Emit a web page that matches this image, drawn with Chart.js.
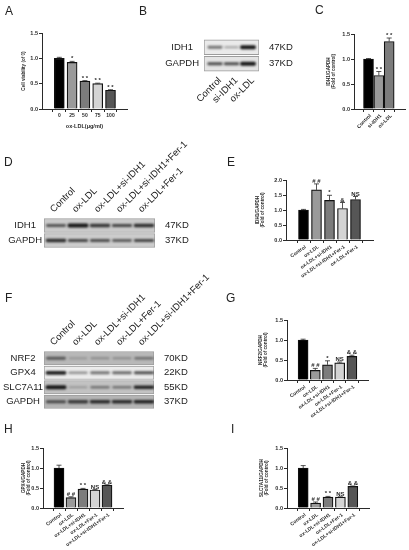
<!DOCTYPE html>
<html>
<head>
<meta charset="utf-8">
<style>
  html, body { margin: 0; padding: 0; background: #fff; }
  #fig { position: relative; width: 409px; height: 550px; overflow: hidden; filter: blur(0.3px); }
  #fig canvas { position: absolute; }
  .letter { position: absolute; font: 12px "Liberation Sans", Arial, sans-serif; color: #222; line-height: 12px; }
</style>
<script src="https://cdn.jsdelivr.net/npm/chart.js@4/dist/chart.umd.min.js"></script>
</head>
<body>
<div id="fig"></div>
<script>
// bar panels
const doseLabels = ['0', '25', '50', '75', '100'];
const viability = [1.0, 0.92, 0.55, 0.5, 0.37];
const viabilityErr = [0.02, 0.02, 0.01, 0.01, 0.01];
const viabilitySig = ['', '*', '* *', '* *', '* *'];

const cLabels = ['Control', 'si-IDH1', 'ox-LDL'];
const cValues = [1.0, 0.67, 1.35];
const cErr = [0.01, 0.08, 0.07];
const cSig = ['', '* *', '* *'];

const eLabels = ['Control', 'ox-LDL', 'ox-LDL+si-IDH1', 'ox-LDL+si-IDH1+Fer-1', 'ox-LDL+Fer-1'];
const eValues = [1.0, 1.67, 1.32, 1.05, 1.35];
const eErr = [0.02, 0.2, 0.17, 0.2, 0.1];
const eSig = ['', '# #', '*', '&', 'NS'];

const ghiLabels = ['Control', 'ox-LDL', 'ox-LDL+si-IDH1', 'ox-LDL+Fer-1', 'ox-LDL+si-IDH1+Fer-1'];
const gValues = [1.0, 0.24, 0.38, 0.43, 0.59];
const gErr = [0.02, 0.05, 0.1, 0.02, 0.03];
const gSig = ['', '# #', '*', 'NS', '& &'];
const hValues = [1.0, 0.26, 0.47, 0.45, 0.57];
const hErr = [0.07, 0.02, 0.02, 0.01, 0.01];
const hSig = ['', '# #', '* *', 'NS', '& &'];
const iValues = [1.0, 0.12, 0.27, 0.27, 0.54];
const iErr = [0.06, 0.03, 0.02, 0.01, 0.01];
const iSig = ['', '# #', '* *', 'NS', '& &'];

const barGrays = ['#000000', '#9a9a9a', '#7c7c7c', '#d4d4d4', '#565656'];

// blots: band density per lane, row by row
const bLanes = ['Control', 'si-IDH1', 'ox-LDL'];
const bRows = ['IDH1', 'GAPDH'];
const bKD = ['47KD', '37KD'];
const bIDH1 = [0.5, 0.25, 1.0];
const bGAPDH = [0.7, 0.7, 1.0];

const dLanes = ['Control', 'ox-LDL', 'ox-LDL+si-IDH1', 'ox-LDL+si-IDH1+Fer-1', 'ox-LDL+Fer-1'];
const dRows = ['IDH1', 'GAPDH'];
const dKD = ['47KD', '37KD'];
const dIDH1 = [0.6, 1.0, 0.8, 0.7, 0.85];
const dGAPDH = [0.85, 0.7, 0.65, 0.55, 0.7];

const fLanes = ['Control', 'ox-LDL', 'ox-LDL+si-IDH1', 'ox-LDL+Fer-1', 'ox-LDL+si-IDH1+Fer-1'];
const fRows = ['NRF2', 'GPX4', 'SLC7A11', 'GAPDH'];
const fKD = ['70KD', '22KD', '55KD', '37KD'];
const fNRF2 = [0.55, 0.1, 0.2, 0.2, 0.4];
const fGPX4 = [0.95, 0.35, 0.5, 0.55, 0.7];
const fSLC = [1.0, 0.15, 0.4, 0.4, 0.9];
const fGAPDH = [0.65, 0.75, 0.85, 0.85, 0.9];

const letters = [['A', 5, 5], ['B', 139, 5], ['C', 315, 4], ['D', 4, 156], ['E', 227, 156],
  ['F', 5, 292], ['G', 226, 292], ['H', 4, 423], ['I', 231, 423]];

const fig = document.getElementById('fig');
const family = '"Liberation Sans", Arial, sans-serif';
const ink = '#2a2a2a';

letters.forEach(l => {
  const d = document.createElement('div');
  d.className = 'letter';
  d.textContent = l[0];
  d.style.left = l[1] + 'px';
  d.style.top = l[2] + 'px';
  fig.appendChild(d);
});

function addCanvas(r) {
  const c = document.createElement('canvas');
  c.width = r.right - r.left;
  c.height = r.bottom - r.top;
  c.style.left = r.left + 'px';
  c.style.top = r.top + 'px';
  fig.appendChild(c);
  return c;
}

// error whiskers and significance marks above each bar
const barExtras = {
  id: 'barExtras',
  afterDatasetsDraw(chart, args, opts) {
    const ctx = chart.ctx;
    const y = chart.scales.y;
    const bars = chart.getDatasetMeta(0).data;
    ctx.save();
    ctx.strokeStyle = ink;
    ctx.fillStyle = ink;
    ctx.lineWidth = 0.8;
    ctx.textAlign = 'center';
    ctx.textBaseline = 'alphabetic';
    ctx.font = 'bold 6px ' + family;
    opts.values.forEach((v, i) => {
      const top = y.getPixelForValue(v + opts.errs[i]);
      const x = bars[i].x;
      ctx.beginPath();
      ctx.moveTo(x, y.getPixelForValue(v));
      ctx.lineTo(x, top);
      ctx.moveTo(x - 2.5, top);
      ctx.lineTo(x + 2.5, top);
      ctx.stroke();
      if (opts.sig[i]) ctx.fillText(opts.sig[i], x, top - 1);
    });
    ctx.restore();
  }
};

function barPanel(p) {
  // first bar centre and spacing set the x range of the scale
  const xMin = -(p.firstX - p.axisX) / p.step;
  const xMax = (p.endX - p.firstX) / p.step;
  new Chart(addCanvas(p.box), {
    type: 'bar',
    plugins: [barExtras],
    data: {
      datasets: [{
        data: p.values.map((v, i) => ({ x: i, y: v })),
        backgroundColor: barGrays.slice(0, p.values.length),
        borderColor: '#111',
        borderWidth: 1.2,
        barThickness: 10
      }]
    },
    options: {
      responsive: false,
      animation: false,
      layout: { padding: { top: p.top - p.box.top, right: p.box.right - p.endX, left: 0, bottom: 0 } },
      plugins: {
        legend: { display: false },
        tooltip: { enabled: false },
        barExtras: { values: p.values, errs: p.errs, sig: p.sig }
      },
      scales: {
        x: {
          type: 'linear',
          min: xMin,
          max: xMax,
          afterBuildTicks: s => { s.ticks = p.labels.map((_, i) => ({ value: i })); },
          afterFit: s => {
            s.height = p.box.bottom - p.bottom;
            s.paddingLeft = 0;
            s.paddingRight = 0;
          },
          border: { color: ink, width: 1 },
          grid: { drawOnChartArea: false, color: ink, tickLength: 3 },
          ticks: {
            callback: v => p.labels[v],
            autoSkip: false,
            minRotation: p.rot,
            maxRotation: p.rot,
            padding: 1,
            labelOffset: p.rot ? 2 : 0,
            color: ink,
            font: { family: family, size: 5, weight: 'bold' }
          },
          title: p.xTitle ? {
            display: true,
            text: p.xTitle,
            color: ink,
            padding: 0,
            font: { family: family, size: 5.5, weight: 'bold' }
          } : { display: false }
        },
        y: {
          min: 0,
          max: p.max,
          afterFit: s => {
            s.width = p.axisX - p.box.left;
            s.paddingTop = 0;
            s.paddingBottom = 0;
          },
          border: { color: ink, width: 1 },
          grid: { drawOnChartArea: false, color: ink, tickLength: 3 },
          ticks: {
            stepSize: 0.5,
            padding: 1,
            color: ink,
            callback: v => v.toFixed(1),
            font: { family: family, size: 5.5, weight: 'bold' }
          },
          title: {
            display: true,
            text: p.yTitle,
            color: ink,
            padding: 0,
            font: { family: family, size: 4.6, weight: 'bold', lineHeight: 1.05 }
          }
        }
      }
    }
  });
}

function blotPanel(p) {
  const xMin = -(p.firstX - p.area.left) / p.step;
  const xMax = (p.area.right - p.firstX) / p.step;
  const datasets = [{
    data: p.rows.map(r => ({ x: [xMin, xMax], y: r })),
    backgroundColor: p.rowGrays,
    borderColor: '#9c9c9c',
    borderWidth: 1,
    borderSkipped: false,
    barThickness: p.rowH,
    grouped: false,
    order: 2
  }];
  p.bands.forEach((lanes, r) => {
    lanes.forEach((d, l) => {
      const w = 0.4 + 0.06 * d;
      datasets.push({
        data: [{ x: [l - w, l + w], y: p.rows[r] }],
        backgroundColor: 'rgba(15,15,15,' + (0.12 + 0.85 * d) + ')',
        barThickness: 1 + 2.2 * d,
        borderRadius: 2,
        borderSkipped: false,
        grouped: false,
        order: 1
      });
    });
  });
  new Chart(addCanvas(p.box), {
    type: 'bar',
    plugins: [{
      id: 'softBands',
      beforeDatasetDraw(chart, args) {
        if (args.index > 0) chart.ctx.filter = 'blur(0.9px)';
      },
      afterDatasetDraw(chart) {
        chart.ctx.filter = 'none';
      }
    }],
    data: { labels: p.rows, datasets: datasets },
    options: {
      indexAxis: 'y',
      responsive: false,
      animation: false,
      layout: { padding: 0 },
      plugins: { legend: { display: false }, tooltip: { enabled: false } },
      scales: {
        x: {
          type: 'linear',
          position: p.lanesOnTop ? 'top' : 'bottom',
          min: xMin,
          max: xMax,
          afterBuildTicks: s => { s.ticks = p.lanes.map((_, i) => ({ value: i })); },
          afterFit: s => {
            s.height = p.lanesOnTop ? p.area.top - p.box.top : p.box.bottom - p.area.bottom;
            s.paddingLeft = 0;
            s.paddingRight = 0;
          },
          border: { display: false },
          grid: { display: false, drawTicks: false },
          ticks: {
            callback: v => p.lanes[v],
            autoSkip: false,
            minRotation: 45,
            maxRotation: 45,
            padding: 3,
            labelOffset: p.laneShift,
            color: '#222',
            font: { family: family, size: 9.5 }
          }
        },
        y: {
          type: 'category',
          afterFit: s => {
            s.width = p.area.left - p.box.left;
            s.paddingTop = 0;
            s.paddingBottom = 0;
          },
          border: { display: false },
          grid: { display: false, drawTicks: false },
          ticks: {
            crossAlign: 'center',
            padding: p.rowPad,
            color: '#222',
            font: { family: family, size: 9.5 }
          }
        },
        kd: {
          type: 'category',
          position: 'right',
          display: true,
          offset: true,
          labels: p.kd,
          afterFit: s => {
            s.width = p.box.right - p.area.right;
            s.paddingTop = 0;
            s.paddingBottom = 0;
          },
          border: { display: false },
          grid: { display: false, drawTicks: false },
          ticks: {
            padding: 10,
            color: '#222',
            font: { family: family, size: 9.5 }
          }
        }
      }
    }
  });
}

barPanel({
  box: { left: 21, top: 28, right: 135, bottom: 130 }, axisX: 42, top: 33, bottom: 109, endX: 127,
  firstX: 53, step: 16, max: 1.5, rot: 0,
  labels: doseLabels, values: viability, errs: viabilityErr, sig: viabilitySig,
  yTitle: 'Cell viability (of 0)', xTitle: 'ox-LDL(\u03bcg/ml)'
});
barPanel({
  box: { left: 326, top: 24, right: 409, bottom: 140 }, axisX: 354, top: 34, bottom: 109, endX: 405,
  firstX: 363, step: 15.5, max: 1.5, rot: 45,
  labels: cLabels, values: cValues, errs: cErr, sig: cSig,
  yTitle: ['IDH1/GAPDH', '(Fold of control)']
});
barPanel({
  box: { left: 255, top: 170, right: 378, bottom: 282 }, axisX: 286, top: 180, bottom: 240, endX: 373,
  firstX: 297, step: 16.25, max: 2, rot: 35,
  labels: eLabels, values: eValues, errs: eErr, sig: eSig,
  yTitle: ['IDH1/GAPDH', '(Fold of control)']
});
barPanel({
  box: { left: 258, top: 310, right: 375, bottom: 422 }, axisX: 287, top: 320, bottom: 380, endX: 368,
  firstX: 297, step: 15.25, max: 1.5, rot: 35,
  labels: ghiLabels, values: gValues, errs: gErr, sig: gSig,
  yTitle: ['NRF2/GAPDH', '(Fold of control)']
});
barPanel({
  box: { left: 21, top: 438, right: 130, bottom: 550 }, axisX: 43, top: 448, bottom: 508, endX: 123,
  firstX: 53, step: 15, max: 1.5, rot: 36,
  labels: ghiLabels, values: hValues, errs: hErr, sig: hSig,
  yTitle: ['GPX4/GAPDH', '(Fold of control)']
});
barPanel({
  box: { left: 259, top: 438, right: 376, bottom: 550 }, axisX: 287, top: 448, bottom: 508, endX: 369,
  firstX: 297, step: 15.5, max: 1.5, rot: 36,
  labels: ghiLabels, values: iValues, errs: iErr, sig: iSig,
  yTitle: ['SLC7A11/GAPDH', '(Fold of control)']
});

blotPanel({
  box: { left: 140, top: 39, right: 300, bottom: 125 }, area: { left: 204, top: 39, right: 259, bottom: 72 },
  firstX: 215, step: 16.5, rowH: 15, rowPad: 5, lanesOnTop: false, laneShift: 5,
  lanes: bLanes, rows: bRows, kd: bKD, bands: [bIDH1, bGAPDH], rowGrays: ['#eaeaea', '#e4e4e4']
});
blotPanel({
  box: { left: 0, top: 130, right: 230, bottom: 248 }, area: { left: 44, top: 218, right: 155, bottom: 248 },
  firstX: 56, step: 22, rowH: 14, rowPad: 2, lanesOnTop: true, laneShift: 4,
  lanes: dLanes, rows: dRows, kd: dKD, bands: [dIDH1, dGAPDH], rowGrays: ['#cacaca', '#cccccc']
});
blotPanel({
  box: { left: 0, top: 270, right: 230, bottom: 409 }, area: { left: 44, top: 351, right: 154, bottom: 409 },
  firstX: 56, step: 22, rowH: 13.5, rowPad: 1, lanesOnTop: true, laneShift: 4,
  lanes: fLanes, rows: fRows, kd: fKD, bands: [fNRF2, fGPX4, fSLC, fGAPDH],
  rowGrays: ['#b8b8b8', '#ebebeb', '#c2c2c2', '#b4b4b4']
});
</script>
</body>
</html>
